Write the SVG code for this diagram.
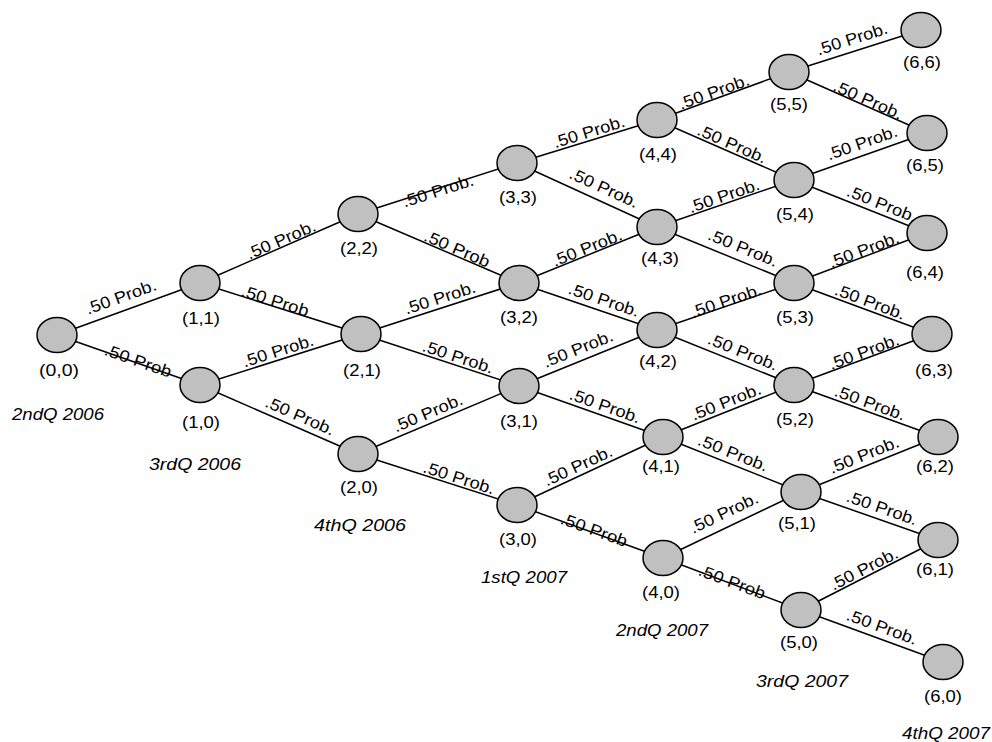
<svg xmlns="http://www.w3.org/2000/svg" width="992" height="742" viewBox="0 0 992 742">
<style>
.e{stroke:#000;stroke-width:1.5;fill:none}
.n{fill:#c0c0c0;stroke:#000;stroke-width:1.5}
.t{font-family:"Liberation Sans",Arial,sans-serif;font-size:16.5px;fill:#000;text-anchor:middle}
.q{font-family:"Liberation Sans",Arial,sans-serif;font-size:16.5px;font-style:italic;fill:#000;text-anchor:middle}
</style>
<rect width="992" height="742" fill="#fff"/>
<g id="connectors">
<line class="e" x1="57" y1="335" x2="200" y2="283"/>
<line class="e" x1="57" y1="335" x2="200" y2="385"/>
<line class="e" x1="200" y1="283" x2="358" y2="214"/>
<line class="e" x1="200" y1="283" x2="361" y2="334"/>
<line class="e" x1="200" y1="385" x2="361" y2="334"/>
<line class="e" x1="200" y1="385" x2="358" y2="454"/>
<line class="e" x1="358" y1="214" x2="517" y2="163"/>
<line class="e" x1="358" y1="214" x2="519" y2="283"/>
<line class="e" x1="361" y1="334" x2="519" y2="283"/>
<line class="e" x1="361" y1="334" x2="519" y2="386"/>
<line class="e" x1="358" y1="454" x2="519" y2="386"/>
<line class="e" x1="358" y1="454" x2="517" y2="505"/>
<line class="e" x1="517" y1="163" x2="657" y2="120"/>
<line class="e" x1="517" y1="163" x2="657" y2="227"/>
<line class="e" x1="519" y1="283" x2="657" y2="227"/>
<line class="e" x1="519" y1="283" x2="657" y2="330"/>
<line class="e" x1="519" y1="386" x2="657" y2="330"/>
<line class="e" x1="519" y1="386" x2="663" y2="437"/>
<line class="e" x1="517" y1="505" x2="663" y2="437"/>
<line class="e" x1="517" y1="505" x2="663" y2="558"/>
<line class="e" x1="657" y1="120" x2="789" y2="72"/>
<line class="e" x1="657" y1="120" x2="794" y2="180"/>
<line class="e" x1="657" y1="227" x2="794" y2="180"/>
<line class="e" x1="657" y1="227" x2="794" y2="283"/>
<line class="e" x1="657" y1="330" x2="794" y2="283"/>
<line class="e" x1="657" y1="330" x2="794" y2="385"/>
<line class="e" x1="663" y1="437" x2="794" y2="385"/>
<line class="e" x1="663" y1="437" x2="801" y2="492"/>
<line class="e" x1="663" y1="558" x2="801" y2="492"/>
<line class="e" x1="663" y1="558" x2="801" y2="610"/>
<line class="e" x1="789" y1="72" x2="921" y2="30"/>
<line class="e" x1="789" y1="72" x2="927" y2="133"/>
<line class="e" x1="794" y1="180" x2="927" y2="133"/>
<line class="e" x1="794" y1="180" x2="927" y2="233"/>
<line class="e" x1="794" y1="283" x2="927" y2="233"/>
<line class="e" x1="794" y1="283" x2="932" y2="334"/>
<line class="e" x1="794" y1="385" x2="932" y2="334"/>
<line class="e" x1="794" y1="385" x2="938" y2="437"/>
<line class="e" x1="801" y1="492" x2="938" y2="437"/>
<line class="e" x1="801" y1="492" x2="938" y2="540"/>
<line class="e" x1="801" y1="610" x2="938" y2="540"/>
<line class="e" x1="801" y1="610" x2="943" y2="662"/>
<g id="edge-labels">
<text class="t" transform="translate(121,297) rotate(-20)" y="5.5" textLength="74" lengthAdjust="spacingAndGlyphs">.50 Prob.</text>
<text class="t" transform="translate(138,361) rotate(19.3)" y="5.5" textLength="70" lengthAdjust="spacingAndGlyphs">.50 Prob</text>
<text class="t" transform="translate(281,240) rotate(-23.6)" y="5.5" textLength="74" lengthAdjust="spacingAndGlyphs">.50 Prob.</text>
<text class="t" transform="translate(275,301) rotate(17.6)" y="5.5" textLength="70" lengthAdjust="spacingAndGlyphs">.50 Prob</text>
<text class="t" transform="translate(278,351) rotate(-17.6)" y="5.5" textLength="74" lengthAdjust="spacingAndGlyphs">.50 Prob.</text>
<text class="t" transform="translate(300,416) rotate(23.6)" y="5.5" textLength="74" lengthAdjust="spacingAndGlyphs">.50 Prob.</text>
<text class="t" transform="translate(438,191) rotate(-17.8)" y="5.5" textLength="74" lengthAdjust="spacingAndGlyphs">.50 Prob.</text>
<text class="t" transform="translate(457,249) rotate(23.2)" y="5.5" textLength="70" lengthAdjust="spacingAndGlyphs">.50 Prob</text>
<text class="t" transform="translate(440,298) rotate(-17.9)" y="5.5" textLength="74" lengthAdjust="spacingAndGlyphs">.50 Prob.</text>
<text class="t" transform="translate(458,357) rotate(18.2)" y="5.5" textLength="74" lengthAdjust="spacingAndGlyphs">.50 Prob.</text>
<text class="t" transform="translate(428,413) rotate(-22.9)" y="5.5" textLength="74" lengthAdjust="spacingAndGlyphs">.50 Prob.</text>
<text class="t" transform="translate(459,478) rotate(17.8)" y="5.5" textLength="74" lengthAdjust="spacingAndGlyphs">.50 Prob.</text>
<text class="t" transform="translate(589,132) rotate(-17.1)" y="5.5" textLength="74" lengthAdjust="spacingAndGlyphs">.50 Prob.</text>
<text class="t" transform="translate(604,188) rotate(24.6)" y="5.5" textLength="74" lengthAdjust="spacingAndGlyphs">.50 Prob.</text>
<text class="t" transform="translate(587,248) rotate(-22.1)" y="5.5" textLength="74" lengthAdjust="spacingAndGlyphs">.50 Prob.</text>
<text class="t" transform="translate(604,300) rotate(18.8)" y="5.5" textLength="74" lengthAdjust="spacingAndGlyphs">.50 Prob.</text>
<text class="t" transform="translate(578,349) rotate(-22.1)" y="5.5" textLength="74" lengthAdjust="spacingAndGlyphs">.50 Prob.</text>
<text class="t" transform="translate(605,406) rotate(19.5)" y="5.5" textLength="74" lengthAdjust="spacingAndGlyphs">.50 Prob.</text>
<text class="t" transform="translate(578,466) rotate(-25)" y="5.5" textLength="74" lengthAdjust="spacingAndGlyphs">.50 Prob.</text>
<text class="t" transform="translate(594,530) rotate(20)" y="5.5" textLength="70" lengthAdjust="spacingAndGlyphs">.50 Prob</text>
<text class="t" transform="translate(714,92) rotate(-20)" y="5.5" textLength="74" lengthAdjust="spacingAndGlyphs">.50 Prob.</text>
<text class="t" transform="translate(732,144) rotate(23.6)" y="5.5" textLength="74" lengthAdjust="spacingAndGlyphs">.50 Prob.</text>
<text class="t" transform="translate(724,196) rotate(-18.9)" y="5.5" textLength="74" lengthAdjust="spacingAndGlyphs">.50 Prob.</text>
<text class="t" transform="translate(743,248) rotate(22.2)" y="5.5" textLength="74" lengthAdjust="spacingAndGlyphs">.50 Prob.</text>
<text class="t" transform="translate(726,301) rotate(-18.9)" y="5.5" textLength="74" lengthAdjust="spacingAndGlyphs">.50 Prob.</text>
<text class="t" transform="translate(743,352) rotate(21.9)" y="5.5" textLength="74" lengthAdjust="spacingAndGlyphs">.50 Prob.</text>
<text class="t" transform="translate(726,402) rotate(-21.7)" y="5.5" textLength="74" lengthAdjust="spacingAndGlyphs">.50 Prob.</text>
<text class="t" transform="translate(733,453) rotate(21.7)" y="5.5" textLength="74" lengthAdjust="spacingAndGlyphs">.50 Prob.</text>
<text class="t" transform="translate(724,513) rotate(-25.6)" y="5.5" textLength="74" lengthAdjust="spacingAndGlyphs">.50 Prob.</text>
<text class="t" transform="translate(732,582) rotate(20.6)" y="5.5" textLength="70" lengthAdjust="spacingAndGlyphs">.50 Prob</text>
<text class="t" transform="translate(852,39) rotate(-17.6)" y="5.5" textLength="74" lengthAdjust="spacingAndGlyphs">.50 Prob.</text>
<text class="t" transform="translate(868,100) rotate(23.8)" y="5.5" textLength="74" lengthAdjust="spacingAndGlyphs">.50 Prob.</text>
<text class="t" transform="translate(862,143) rotate(-19.5)" y="5.5" textLength="74" lengthAdjust="spacingAndGlyphs">.50 Prob.</text>
<text class="t" transform="translate(882,204) rotate(21.7)" y="5.5" textLength="74" lengthAdjust="spacingAndGlyphs">.50 Prob.</text>
<text class="t" transform="translate(864,250) rotate(-20.6)" y="5.5" textLength="74" lengthAdjust="spacingAndGlyphs">.50 Prob.</text>
<text class="t" transform="translate(870,302) rotate(20.3)" y="5.5" textLength="74" lengthAdjust="spacingAndGlyphs">.50 Prob.</text>
<text class="t" transform="translate(864,352) rotate(-20.3)" y="5.5" textLength="74" lengthAdjust="spacingAndGlyphs">.50 Prob.</text>
<text class="t" transform="translate(870,403) rotate(19.9)" y="5.5" textLength="74" lengthAdjust="spacingAndGlyphs">.50 Prob.</text>
<text class="t" transform="translate(864,455) rotate(-21.9)" y="5.5" textLength="74" lengthAdjust="spacingAndGlyphs">.50 Prob.</text>
<text class="t" transform="translate(882,508) rotate(19.3)" y="5.5" textLength="74" lengthAdjust="spacingAndGlyphs">.50 Prob.</text>
<text class="t" transform="translate(864,569) rotate(-27.1)" y="5.5" textLength="74" lengthAdjust="spacingAndGlyphs">.50 Prob.</text>
<text class="t" transform="translate(882,627) rotate(20.1)" y="5.5" textLength="74" lengthAdjust="spacingAndGlyphs">.50 Prob.</text>
</g>
</g>
<g id="n00"><ellipse class="n" cx="57" cy="335" rx="20" ry="17.5"/><text class="t" x="59" y="376" textLength="40" lengthAdjust="spacingAndGlyphs">(0,0)</text></g>
<g id="n11"><ellipse class="n" cx="200" cy="283" rx="20" ry="17.5"/><text class="t" x="201" y="324" textLength="38" lengthAdjust="spacingAndGlyphs">(1,1)</text></g>
<g id="n10"><ellipse class="n" cx="200" cy="385" rx="20" ry="17.5"/><text class="t" x="201" y="428" textLength="38" lengthAdjust="spacingAndGlyphs">(1,0)</text></g>
<g id="n22"><ellipse class="n" cx="358" cy="214" rx="20" ry="17.5"/><text class="t" x="359" y="254" textLength="38" lengthAdjust="spacingAndGlyphs">(2,2)</text></g>
<g id="n21"><ellipse class="n" cx="361" cy="334" rx="20" ry="17.5"/><text class="t" x="362" y="376" textLength="38" lengthAdjust="spacingAndGlyphs">(2,1)</text></g>
<g id="n20"><ellipse class="n" cx="358" cy="454" rx="20" ry="17.5"/><text class="t" x="359" y="493" textLength="38" lengthAdjust="spacingAndGlyphs">(2,0)</text></g>
<g id="n33"><ellipse class="n" cx="517" cy="163" rx="20" ry="17.5"/><text class="t" x="518" y="203" textLength="38" lengthAdjust="spacingAndGlyphs">(3,3)</text></g>
<g id="n32"><ellipse class="n" cx="519" cy="283" rx="20" ry="17.5"/><text class="t" x="519" y="323" textLength="38" lengthAdjust="spacingAndGlyphs">(3,2)</text></g>
<g id="n31"><ellipse class="n" cx="519" cy="386" rx="20" ry="17.5"/><text class="t" x="519" y="427" textLength="38" lengthAdjust="spacingAndGlyphs">(3,1)</text></g>
<g id="n30"><ellipse class="n" cx="517" cy="505" rx="20" ry="17.5"/><text class="t" x="518" y="545" textLength="38" lengthAdjust="spacingAndGlyphs">(3,0)</text></g>
<g id="n44"><ellipse class="n" cx="657" cy="120" rx="20" ry="17.5"/><text class="t" x="658" y="160" textLength="38" lengthAdjust="spacingAndGlyphs">(4,4)</text></g>
<g id="n43"><ellipse class="n" cx="657" cy="227" rx="20" ry="17.5"/><text class="t" x="660" y="264" textLength="38" lengthAdjust="spacingAndGlyphs">(4,3)</text></g>
<g id="n42"><ellipse class="n" cx="657" cy="330" rx="20" ry="17.5"/><text class="t" x="658" y="367" textLength="38" lengthAdjust="spacingAndGlyphs">(4,2)</text></g>
<g id="n41"><ellipse class="n" cx="663" cy="437" rx="20" ry="17.5"/><text class="t" x="661" y="472" textLength="38" lengthAdjust="spacingAndGlyphs">(4,1)</text></g>
<g id="n40"><ellipse class="n" cx="663" cy="558" rx="20" ry="17.5"/><text class="t" x="661" y="598" textLength="38" lengthAdjust="spacingAndGlyphs">(4,0)</text></g>
<g id="n55"><ellipse class="n" cx="789" cy="72" rx="20" ry="17.5"/><text class="t" x="789" y="110" textLength="38" lengthAdjust="spacingAndGlyphs">(5,5)</text></g>
<g id="n54"><ellipse class="n" cx="794" cy="180" rx="20" ry="17.5"/><text class="t" x="795" y="220" textLength="38" lengthAdjust="spacingAndGlyphs">(5,4)</text></g>
<g id="n53"><ellipse class="n" cx="794" cy="283" rx="20" ry="17.5"/><text class="t" x="795" y="323" textLength="38" lengthAdjust="spacingAndGlyphs">(5,3)</text></g>
<g id="n52"><ellipse class="n" cx="794" cy="385" rx="20" ry="17.5"/><text class="t" x="795" y="425" textLength="38" lengthAdjust="spacingAndGlyphs">(5,2)</text></g>
<g id="n51"><ellipse class="n" cx="801" cy="492" rx="20" ry="17.5"/><text class="t" x="797" y="529" textLength="38" lengthAdjust="spacingAndGlyphs">(5,1)</text></g>
<g id="n50"><ellipse class="n" cx="801" cy="610" rx="20" ry="17.5"/><text class="t" x="799" y="648" textLength="38" lengthAdjust="spacingAndGlyphs">(5,0)</text></g>
<g id="n66"><ellipse class="n" cx="921" cy="30" rx="20" ry="17.5"/><text class="t" x="922" y="68" textLength="38" lengthAdjust="spacingAndGlyphs">(6,6)</text></g>
<g id="n65"><ellipse class="n" cx="927" cy="133" rx="20" ry="17.5"/><text class="t" x="925" y="171" textLength="38" lengthAdjust="spacingAndGlyphs">(6,5)</text></g>
<g id="n64"><ellipse class="n" cx="927" cy="233" rx="20" ry="17.5"/><text class="t" x="925" y="278" textLength="38" lengthAdjust="spacingAndGlyphs">(6,4)</text></g>
<g id="n63"><ellipse class="n" cx="932" cy="334" rx="20" ry="17.5"/><text class="t" x="934" y="376" textLength="38" lengthAdjust="spacingAndGlyphs">(6,3)</text></g>
<g id="n62"><ellipse class="n" cx="938" cy="437" rx="20" ry="17.5"/><text class="t" x="935" y="472" textLength="38" lengthAdjust="spacingAndGlyphs">(6,2)</text></g>
<g id="n61"><ellipse class="n" cx="938" cy="540" rx="20" ry="17.5"/><text class="t" x="935" y="575" textLength="38" lengthAdjust="spacingAndGlyphs">(6,1)</text></g>
<g id="n60"><ellipse class="n" cx="943" cy="662" rx="20" ry="17.5"/><text class="t" x="943" y="702" textLength="38" lengthAdjust="spacingAndGlyphs">(6,0)</text></g>
<g id="quarters">
<text class="q" x="58" y="420" textLength="92" lengthAdjust="spacingAndGlyphs">2ndQ 2006</text>
<text class="q" x="195" y="470" textLength="92" lengthAdjust="spacingAndGlyphs">3rdQ 2006</text>
<text class="q" x="360" y="531" textLength="92" lengthAdjust="spacingAndGlyphs">4thQ 2006</text>
<text class="q" x="524" y="583" textLength="86" lengthAdjust="spacingAndGlyphs">1stQ 2007</text>
<text class="q" x="662" y="636" textLength="92" lengthAdjust="spacingAndGlyphs">2ndQ 2007</text>
<text class="q" x="802" y="687" textLength="92" lengthAdjust="spacingAndGlyphs">3rdQ 2007</text>
<text class="q" x="946" y="739" textLength="88" lengthAdjust="spacingAndGlyphs">4thQ 2007</text>
</g>
</svg>
